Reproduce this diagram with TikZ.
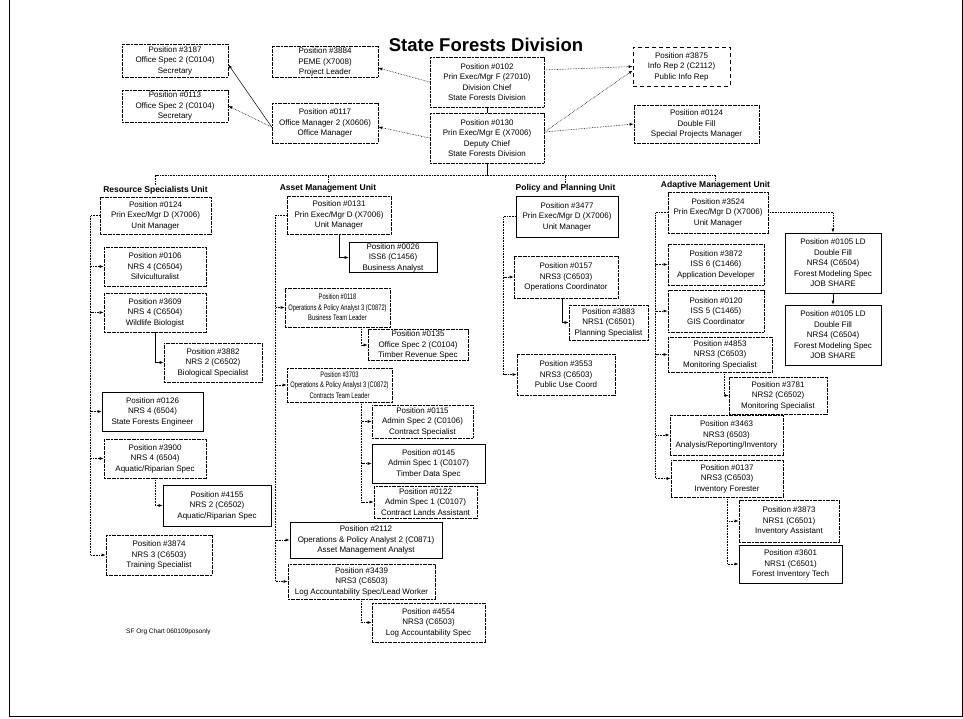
\documentclass[tikz,border=0pt]{standalone}
\usepackage{fontspec}
\setmainfont{Liberation Sans}
\usetikzlibrary{arrows.meta}
\newcommand{\squeeze}[1]{\scalebox{0.72}[1]{#1}}

\begin{document}
\begin{tikzpicture}[x=1pt, y=-1pt,
    >={Latex[length=4pt,width=3pt]},
    every node/.style={align=center, inner sep=1pt, font=\fontsize{8}{10.5}\selectfont},
    box/.style={draw, line width=0.7pt, dash pattern=on 2pt off 0.6pt},
    firm/.style={box, solid},
    sz/.style 2 args={minimum width=#1pt, minimum height=#2pt},
    unit/.style={font=\fontsize{8.5}{10}\selectfont\bfseries},
    link/.style={line width=0.6pt, densely dotted}]

\useasboundingbox (0,0) rectangle (963,718);
\draw[line width=1pt] (9,0) -- (9,716) -- (962,716) -- (962,0);

\node[font=\fontsize{18.5}{20}\selectfont\bfseries] (title) at (486,45) {State Forests Division};

% division office
\node[box, sz={114}{50}] (chief) at (487,82) {Position \#0102\\Prin Exec/Mgr F (27010)\\Division Chief\\State Forests Division};
\node[box, sz={114}{50}] (deputy) at (487,138) {Position \#0130\\Prin Exec/Mgr E (X7006)\\Deputy Chief\\State Forests Division};
\node[box, sz={106}{33}] (s3187) at (175,60.5) {Position \#3187\\Office Spec 2 (C0104)\\Secretary};
\node[box, sz={106}{32}] (s0113) at (175,106) {Position \#0113\\Office Spec 2 (C0104)\\Secretary};
\node[box, sz={106}{30}] (p3884) at (325,62) {Position \#3884\\PEME (X7008)\\Project Leader};
\node[box, sz={106}{40}] (p0117) at (325,123) {Position \#0117\\Office Manager 2 (X0606)\\Office Manager};
\node[box, dash pattern=on 4pt off 3pt, sz={97}{39}] (p3875) at (681.5,66.5) {Position \#3875\\Info Rep 2 (C2112)\\Public Info Rep};
\node[box, sz={125}{38}] (p0124) at (696.5,124) {Position \#0124\\Double Fill\\Special Projects Manager};

\draw[line width=0.5pt] (chief) -- (deputy);
\draw[link,->] (chief.west) -- ([yshift=-6pt]p3884.east);
\draw[link,->] (deputy.west) -- ([yshift=-4pt]p0117.east);
\draw[->, line width=0.5pt] ([yshift=-4pt]p0117.west) -- ([yshift=-4pt]s3187.east);
\draw[link,->] ([yshift=-4pt]p0117.west) -- (s0113.east);
\draw[link,->] ([yshift=12pt]chief.east) -- (p3875.west);
\draw[link,->] ([yshift=6pt]deputy.east) -- ([yshift=-4pt]p3875.west);
\draw[link,->] ([yshift=6pt]deputy.east) -- (p0124.west);

% units
\node[unit] (lres) at (155.5,190) {Resource Specialists Unit};
\node[unit] (lasset) at (328,188) {Asset Management Unit};
\node[unit] (lpol) at (565.5,188) {Policy and Planning Unit};
\node[unit] (ladapt) at (715.5,185) {Adaptive Management Unit};

\coordinate (bus) at (487,175);
\draw[line width=0.6pt] (deputy.south) -- (bus);
\draw[link] (lres.north) |- (bus) -| (ladapt.north);
\draw[link] (lasset.north) -- (lasset.north |- bus);
\draw[link] (lpol.north) -- (lpol.north |- bus);

% Resource Specialists Unit
\node[box, sz={111}{37}] (r0124) at (155.5,215.5) {Position \#0124\\Prin Exec/Mgr D (X7006)\\Unit Manager};
\node[box, sz={102}{39}] (r0106) at (155,266.5) {Position \#0106\\NRS 4 (C6504)\\Silviculturalist};
\node[box, sz={102}{39}] (r3609) at (155,312.5) {Position \#3609\\NRS 4 (C6504)\\Wildlife Biologist};
\node[box, sz={98}{39}] (r3882) at (213,362.5) {Position \#3882\\NRS 2 (C6502)\\Biological Specialist};
\node[firm, sz={101}{39}] (r0126) at (152.5,411.5) {Position \#0126\\NRS 4 (6504)\\State Forests Engineer};
\node[box, sz={102}{39}] (r3900) at (155,458.5) {Position \#3900\\NRS 4 (6504)\\Aquatic/Riparian Spec};
\node[firm, sz={108}{41}] (r4155) at (217,505.5) {Position \#4155\\NRS 2 (C6502)\\Aquatic/Riparian Spec};
\node[box, sz={106}{40}] (r3874) at (159,555) {Position \#3874\\NRS 3 (C6503)\\Training Specialist};

\draw[link,->] (r0124.west) -- ++(-9,0) |- (r0106.west);
\draw[link,->] (r0124.west) -- ++(-9,0) |- (r3609.west);
\draw[link,->] (r0124.west) -- ++(-9,0) |- (r0126.west);
\draw[link,->] (r0124.west) -- ++(-9,0) |- (r3900.west);
\draw[link,->] (r0124.west) -- ++(-9,0) |- (r3874.west);
\draw[->, line width=0.5pt] (r3609.south) |- (r3882.west);
\draw[link,->] (r3900.south) |- (r4155.west);

% Asset Management Unit
\node[box, sz={104}{38}] (a0131) at (339,215) {Position \#0131\\Prin Exec/Mgr D (X7006)\\Unit Manager};
\node[firm, sz={88}{29}] (a0026) at (393,257.5) {Position \#0026\\ISS6 (C1456)\\Business Analyst};
\node[box, sz={105}{39}] (a0118) at (337.5,307.5) {\squeeze{Position \#0118}\\\squeeze{Operations \& Policy Analyst 3 (C0872)}\\\squeeze{Business Team Leader}};
\node[box, sz={100}{30}] (a0135) at (418,345) {Position \#0135\\Office Spec 2 (C0104)\\Timber Revenue Spec};
\node[box, sz={105}{34}] (a3703) at (339.5,385) {\squeeze{Position \#3703}\\\squeeze{Operations \& Policy Analyst 3 (C0872)}\\\squeeze{Contracts Team Leader}};
\node[box, sz={101}{33}] (a0115) at (422.5,421.5) {Position \#0115\\Admin Spec 2 (C0106)\\Contract Specialist};
\node[firm, sz={113}{39}] (a0145) at (428.5,463.5) {Position \#0145\\Admin Spec 1 (C0107)\\Timber Data Spec};
\node[box, sz={103}{32}] (a0122) at (425.5,502) {Position \#0122\\Admin Spec 1 (C0107)\\Contract Lands Assistant};
\node[firm, sz={152}{36}] (a2112) at (366,540) {Position \#2112\\Operations \& Policy Analyst 2 (C0871)\\Asset Management Analyst};
\node[box, sz={147}{35}] (a3439) at (361.5,581.5) {Position \#3439\\NRS3 (C6503)\\Log Accountability Spec/Lead Worker};
\node[box, sz={113}{39}] (a4554) at (428.5,622.5) {Position \#4554\\NRS3 (C6503)\\Log Accountability Spec};

\draw[link,->] (a0131.west) -- ++(-11,0) |- (a0118.west);
\draw[link,->] (a0131.west) -- ++(-11,0) |- (a3703.west);
\draw[link,->] (a0131.west) -- ++(-11,0) |- (a2112.west);
\draw[link,->] (a0131.west) -- ++(-11,0) |- (a3439.west);
\draw[->, line width=0.5pt] (a0131.south) |- (a0026.west);
\draw[link,->] ([xshift=24pt]a0118.south) |- (a0135.west);
\draw[link,->] ([xshift=22pt]a3703.south) |- (a0115.west);
\draw[link,->] ([xshift=22pt]a3703.south) |- (a0145.west);
\draw[link,->] ([xshift=22pt]a3703.south) |- (a0122.west);
\draw[link,->] (a3439.south) |- (a4554.west);

% Policy and Planning Unit
\node[firm, sz={102}{41}] (l3477) at (567,216.5) {Position \#3477\\Prin Exec/Mgr D (X7006)\\Unit Manager};
\node[box, sz={104}{42}] (l0157) at (566,277) {Position \#0157\\NRS3 (C6503)\\Operations Coordinator};
\node[box, sz={79}{35}] (l3883) at (608.5,322.5) {Position \#3883\\NRS1 (C6501)\\Planning Specialist};
\node[box, sz={98}{41}] (l3553) at (566,374.5) {Position \#3553\\NRS3 (C6503)\\Public Use Coord};

\draw[link,->] (l3477.west) -- ++(-12,0) |- (l0157.west);
\draw[link,->] (l3477.west) -- ++(-12,0) |- (l3553.west);
\draw[->, line width=0.5pt] ([xshift=-4pt]l0157.south) |- (l3883.west);

% Adaptive Management Unit
\node[box, sz={100}{41}] (m3524) at (718,212.5) {Position \#3524\\Prin Exec/Mgr D (X7006)\\Unit Manager};
\node[box, sz={96}{41}] (m3872) at (716,264.5) {Position \#3872\\ISS 6 (C1466)\\Application Developer};
\node[box, sz={96}{42}] (m0120) at (716,311) {Position \#0120\\ISS 5 (C1465)\\GIS Coordinator};
\node[box, sz={104}{35}] (m4853) at (720,354.5) {Position \#4853\\NRS3 (C6503)\\Monitoring Specialist};
\node[box, sz={98}{37}] (m3781) at (778,395.5) {Position \#3781\\NRS2 (C6502)\\Monitoring Specialist};
\node[firm, sz={96}{60}] (m0105a) at (833,263) {Position \#0105 LD\\Double Fill\\NRS4 (C6504)\\Forest Modeling Spec\\JOB SHARE};
\node[firm, sz={96}{60}] (m0105b) at (833,335) {Position \#0105 LD\\Double Fill\\NRS4 (C6504)\\Forest Modeling Spec\\JOB SHARE};
\node[box, sz={113}{40}] (m3463) at (726.5,435) {Position \#3463\\NRS3 (6503)\\Analysis/Reporting/Inventory};
\node[box, sz={112}{37}] (m0137) at (727,478.5) {Position \#0137\\NRS3 (C6503)\\Inventory Forester};
\node[box, sz={100}{42}] (m3873) at (789,521) {Position \#3873\\NRS1 (C6501)\\Inventory Assistant};
\node[firm, sz={103}{38}] (m3601) at (790.5,564) {Position \#3601\\NRS1 (C6501)\\Forest Inventory Tech};

\draw[link,->] (m3524.west) -- ++(-12,0) |- (m3872.west);
\draw[link,->] (m3524.west) -- ++(-12,0) |- (m0120.west);
\draw[link,->] (m3524.west) -- ++(-12,0) |- (m4853.west);
\draw[link,->] (m3524.west) -- ++(-12,0) |- (m3463.west);
\draw[link,->] (m3524.west) -- ++(-12,0) |- (m0137.west);
\draw[link,->] (m3524.east) -| (m0105a.north);
\draw[->, line width=0.5pt] (m0105a.south) -- (m0105b.north);
\draw[link,->] ([xshift=4pt]m4853.south) |- (m3781.west);
\draw[link,->] (m0137.south) |- (m3873.west);
\draw[link,->] (m0137.south) |- (m3601.west);

\node[font=\fontsize{6.5}{8}\selectfont, anchor=west] (note) at (125,632) {SF Org Chart 060109posonly};

\end{tikzpicture}
\end{document}
